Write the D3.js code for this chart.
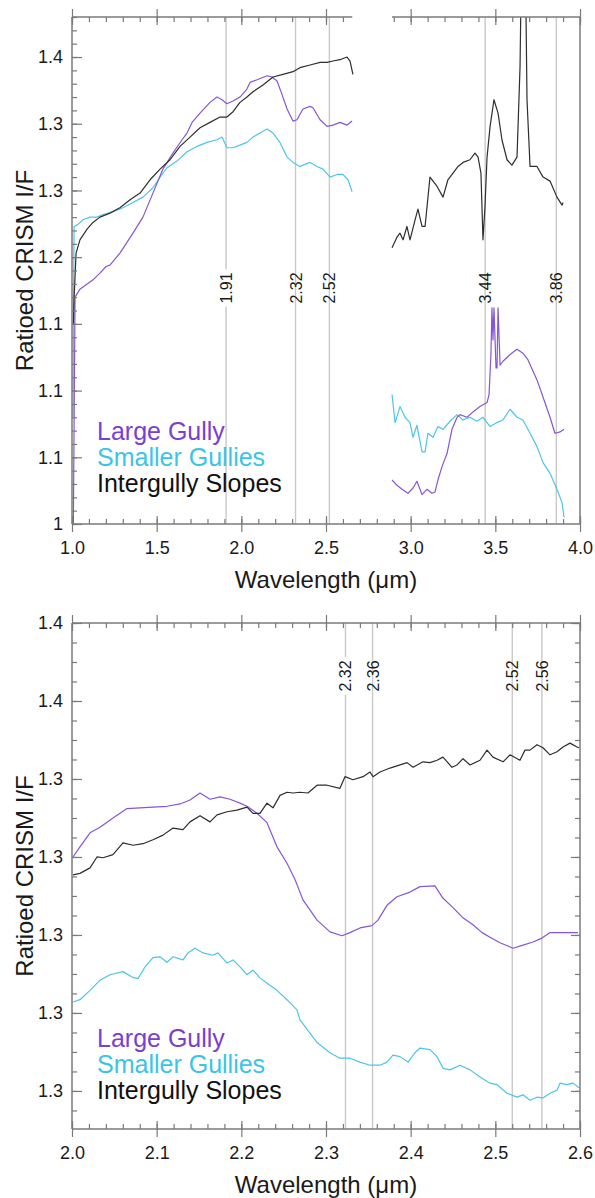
<!DOCTYPE html>
<html>
<head>
<meta charset="utf-8">
<script src="https://cdn.jsdelivr.net/npm/d3@7"></script>
<style>
  body { margin: 0; background: #fff; }
  svg text { font-family: "Liberation Sans", Arial, Helvetica, sans-serif; fill: #1a1a1a; }
</style>
</head>
<body>
<svg id="chart" width="595" height="1198"></svg>
<script>
// ---- data: [wavelength (um), ratioed I/F] ----
var topLargeGullyA = [[1.008,1.000],[1.018,1.170],[1.047,1.176],[1.124,1.183],[1.165,1.188],[1.201,1.193],[1.224,1.194],[1.283,1.203],[1.360,1.218],[1.419,1.230],[1.478,1.248],[1.537,1.266],[1.596,1.278],[1.650,1.288],[1.679,1.293],[1.709,1.301],[1.756,1.308],[1.815,1.316],[1.856,1.320],[1.886,1.318],[1.915,1.315],[1.951,1.317],[1.992,1.320],[2.033,1.326],[2.051,1.331],[2.093,1.333],[2.152,1.336],[2.181,1.335],[2.211,1.332],[2.240,1.322],[2.270,1.311],[2.305,1.302],[2.329,1.303],[2.364,1.311],[2.406,1.313],[2.423,1.312],[2.465,1.303],[2.506,1.298],[2.541,1.299],[2.583,1.301],[2.624,1.299],[2.654,1.302]];
var topLargeGullyB = [[2.890,1.033],[2.919,1.029],[2.949,1.026],[2.984,1.023],[3.014,1.027],[3.037,1.032],[3.067,1.022],[3.096,1.026],[3.126,1.023],[3.144,1.024],[3.161,1.033],[3.185,1.043],[3.215,1.053],[3.244,1.071],[3.274,1.080],[3.291,1.082],[3.333,1.080],[3.368,1.084],[3.409,1.088],[3.451,1.091],[3.463,1.097],[3.474,1.127],[3.480,1.162],[3.486,1.138],[3.492,1.162],[3.504,1.117],[3.510,1.117],[3.516,1.162],[3.528,1.119],[3.545,1.122],[3.587,1.127],[3.628,1.131],[3.663,1.128],[3.693,1.123],[3.746,1.108],[3.782,1.095],[3.823,1.080],[3.852,1.068],[3.882,1.069],[3.906,1.071]];

var topSmallerA = [[1.006,1.080],[1.012,1.223],[1.030,1.224],[1.065,1.228],[1.106,1.230],[1.148,1.230],[1.183,1.232],[1.242,1.234],[1.301,1.237],[1.360,1.241],[1.419,1.245],[1.478,1.252],[1.520,1.260],[1.561,1.267],[1.620,1.272],[1.679,1.279],[1.738,1.283],[1.797,1.286],[1.856,1.288],[1.886,1.290],[1.915,1.282],[1.951,1.282],[1.992,1.284],[2.033,1.286],[2.069,1.290],[2.110,1.293],[2.152,1.296],[2.187,1.293],[2.228,1.286],[2.270,1.275],[2.305,1.271],[2.346,1.268],[2.406,1.271],[2.447,1.268],[2.482,1.266],[2.524,1.260],[2.565,1.262],[2.600,1.262],[2.630,1.258],[2.654,1.249]];
var topSmallerB = [[2.890,1.097],[2.908,1.076],[2.937,1.088],[2.967,1.080],[2.996,1.076],[3.014,1.065],[3.037,1.074],[3.067,1.054],[3.085,1.054],[3.102,1.068],[3.132,1.065],[3.161,1.073],[3.191,1.071],[3.232,1.077],[3.274,1.082],[3.309,1.078],[3.350,1.080],[3.392,1.077],[3.427,1.080],[3.469,1.073],[3.510,1.076],[3.545,1.078],[3.587,1.086],[3.628,1.080],[3.663,1.078],[3.705,1.068],[3.746,1.058],[3.782,1.046],[3.823,1.038],[3.864,1.026],[3.894,1.016],[3.906,1.005]];

var topIntergullyA = [[1.008,1.150],[1.012,1.168],[1.024,1.203],[1.047,1.213],[1.089,1.221],[1.124,1.226],[1.165,1.230],[1.224,1.233],[1.283,1.237],[1.343,1.243],[1.402,1.248],[1.461,1.258],[1.520,1.266],[1.579,1.273],[1.638,1.283],[1.697,1.290],[1.756,1.297],[1.815,1.301],[1.874,1.305],[1.915,1.305],[1.951,1.309],[1.992,1.316],[2.033,1.320],[2.069,1.324],[2.128,1.329],[2.187,1.335],[2.246,1.337],[2.305,1.339],[2.346,1.342],[2.406,1.344],[2.465,1.346],[2.506,1.346],[2.541,1.347],[2.583,1.348],[2.624,1.350],[2.642,1.347],[2.659,1.337]];
var topIntergullyB = [[2.890,1.207],[2.919,1.215],[2.937,1.218],[2.955,1.213],[2.978,1.223],[2.996,1.213],[3.026,1.228],[3.043,1.236],[3.067,1.223],[3.085,1.223],[3.114,1.260],[3.156,1.253],[3.191,1.245],[3.220,1.258],[3.250,1.263],[3.280,1.268],[3.309,1.271],[3.350,1.273],[3.380,1.278],[3.398,1.275],[3.415,1.263],[3.427,1.213],[3.439,1.238],[3.451,1.275],[3.469,1.298],[3.492,1.318],[3.516,1.308],[3.539,1.288],[3.569,1.273],[3.598,1.269],[3.628,1.275],[3.646,1.343],[3.657,1.450],[3.675,1.450],[3.687,1.318],[3.705,1.268],[3.746,1.268],[3.782,1.260],[3.823,1.257],[3.864,1.245],[3.894,1.239],[3.900,1.241]];

var botLargeGully = [[2.0012,1.3300],[2.0094,1.3313],[2.0213,1.3331],[2.0331,1.3338],[2.0484,1.3350],[2.0650,1.3362],[2.0803,1.3363],[2.0957,1.3364],[2.1122,1.3365],[2.1276,1.3368],[2.1394,1.3373],[2.1512,1.3382],[2.1630,1.3374],[2.1748,1.3377],[2.1866,1.3374],[2.1984,1.3369],[2.2067,1.3365],[2.2185,1.3356],[2.2303,1.3344],[2.2421,1.3313],[2.2539,1.3292],[2.2634,1.3271],[2.2728,1.3245],[2.2894,1.3219],[2.3047,1.3204],[2.3189,1.3199],[2.3283,1.3203],[2.3402,1.3209],[2.3543,1.3212],[2.3614,1.3219],[2.3720,1.3238],[2.3839,1.3249],[2.3992,1.3255],[2.4110,1.3262],[2.4287,1.3263],[2.4382,1.3247],[2.4500,1.3235],[2.4618,1.3222],[2.4736,1.3213],[2.4843,1.3203],[2.4937,1.3197],[2.5055,1.3190],[2.5209,1.3183],[2.5327,1.3187],[2.5445,1.3191],[2.5551,1.3196],[2.5646,1.3203],[2.5764,1.3203],[2.5882,1.3203],[2.5976,1.3203]];
var botSmaller = [[2.0012,1.3114],[2.0094,1.3117],[2.0213,1.3129],[2.0331,1.3142],[2.0449,1.3149],[2.0602,1.3153],[2.0709,1.3146],[2.0780,1.3144],[2.0862,1.3159],[2.0957,1.3171],[2.1039,1.3172],[2.1122,1.3165],[2.1193,1.3172],[2.1311,1.3168],[2.1370,1.3177],[2.1453,1.3183],[2.1547,1.3177],[2.1665,1.3174],[2.1724,1.3177],[2.1831,1.3164],[2.1902,1.3168],[2.1984,1.3159],[2.2067,1.3149],[2.2138,1.3155],[2.2220,1.3145],[2.2303,1.3138],[2.2421,1.3129],[2.2539,1.3117],[2.2657,1.3104],[2.2693,1.3091],[2.2811,1.3074],[2.2894,1.3062],[2.2965,1.3056],[2.3047,1.3049],[2.3165,1.3042],[2.3283,1.3042],[2.3402,1.3037],[2.3520,1.3033],[2.3638,1.3033],[2.3720,1.3037],[2.3791,1.3046],[2.3874,1.3044],[2.3969,1.3037],[2.4051,1.3049],[2.4110,1.3055],[2.4228,1.3053],[2.4311,1.3044],[2.4382,1.3029],[2.4465,1.3027],[2.4583,1.3033],[2.4701,1.3027],[2.4819,1.3018],[2.4937,1.3010],[2.5020,1.3008],[2.5138,1.2997],[2.5256,1.2992],[2.5327,1.2995],[2.5409,1.2988],[2.5492,1.2992],[2.5563,1.2991],[2.5646,1.2997],[2.5728,1.3001],[2.5764,1.3010],[2.5846,1.3008],[2.5917,1.3010],[2.5988,1.3004]];
var botIntergully = [[2.0012,1.3277],[2.0094,1.3279],[2.0213,1.3286],[2.0295,1.3300],[2.0366,1.3299],[2.0484,1.3303],[2.0602,1.3318],[2.0720,1.3315],[2.0839,1.3317],[2.0957,1.3322],[2.1075,1.3328],[2.1193,1.3337],[2.1311,1.3335],[2.1394,1.3345],[2.1512,1.3353],[2.1630,1.3345],[2.1713,1.3354],[2.1831,1.3358],[2.1949,1.3360],[2.2067,1.3364],[2.2138,1.3356],[2.2220,1.3356],[2.2303,1.3369],[2.2374,1.3363],[2.2457,1.3379],[2.2539,1.3383],[2.2610,1.3382],[2.2693,1.3383],[2.2787,1.3382],[2.2894,1.3392],[2.3012,1.3392],[2.3165,1.3388],[2.3224,1.3403],[2.3319,1.3399],[2.3437,1.3403],[2.3520,1.3409],[2.3555,1.3403],[2.3638,1.3409],[2.3756,1.3414],[2.3874,1.3418],[2.3957,1.3421],[2.4028,1.3415],[2.4146,1.3422],[2.4228,1.3421],[2.4311,1.3424],[2.4382,1.3428],[2.4488,1.3415],[2.4547,1.3418],[2.4618,1.3426],[2.4701,1.3418],[2.4819,1.3424],[2.4902,1.3437],[2.4972,1.3428],[2.5091,1.3422],[2.5173,1.3431],[2.5291,1.3424],[2.5350,1.3437],[2.5409,1.3437],[2.5492,1.3444],[2.5563,1.3440],[2.5646,1.3431],[2.5728,1.3435],[2.5799,1.3441],[2.5882,1.3446],[2.5965,1.3441],[2.5988,1.3440]];

// ---- ticks and labels ----
var topXMajor = [1.0, 1.5, 2.0, 2.5, 3.0, 3.5, 4.0];
var topXLabels = ["1.0", "1.5", "2.0", "2.5", "3.0", "3.5", "4.0"];
var topYMajor = [1.00, 1.05, 1.10, 1.15, 1.20, 1.25, 1.30, 1.35];
var topYLabels = ["1", "1.1", "1.1", "1.1", "1.2", "1.3", "1.3", "1.4"];
var topMarks = [1.91, 2.32, 2.52, 3.44, 3.86];
var topMarkLabels = ["1.91", "2.32", "2.52", "3.44", "3.86"];

var botXMajor = [2.0, 2.1, 2.2, 2.3, 2.4, 2.5, 2.6];
var botXLabels = ["2.0", "2.1", "2.2", "2.3", "2.4", "2.5", "2.6"];
var botYMajor = [1.30, 1.31, 1.32, 1.33, 1.34, 1.35, 1.36];
var botYLabels = ["1.3", "1.3", "1.3", "1.3", "1.3", "1.4", "1.4"];
var botMarks = [2.323, 2.355, 2.52, 2.555];
var botMarkLabels = ["2.32", "2.36", "2.52", "2.56"];

var legendNames = ["Large Gully", "Smaller Gullies", "Intergully Slopes"];
var colors = ["#8656d6", "#4cc6e6", "#2e2e2e"];
var legendColors = ["#7a3fd0", "#3cc4e6", "#111111"];

var svg = d3.select("#chart");
var axisColor = "#7a7a7a";

function range(a, b, step) {
  var out = [];
  for (var i = 0; a + i * step <= b + 1e-9; i++) out.push(+(a + i * step).toFixed(5));
  return out;
}

function drawPanel(o) {
  var x = d3.scaleLinear().domain(o.xDomain).range([72, 580]);
  var y = d3.scaleLinear().domain(o.yDomain).range([o.bottom, o.top]);
  var g = svg.append("g");
  var clipId = "clip" + o.id;

  g.append("clipPath").attr("id", clipId).append("rect")
      .attr("x", 72).attr("y", o.top).attr("width", 508).attr("height", o.bottom - o.top);

  // marker lines with labels
  var marks = g.append("g");
  o.marks.forEach(function(m, i) {
    var mx = x(m);
    marks.append("line")
        .attr("x1", mx).attr("x2", mx).attr("y1", o.top).attr("y2", o.bottom)
        .attr("stroke", "#c9c9c9").attr("stroke-width", 1.4);
    var t = marks.append("text")
        .attr("transform", "translate(" + (mx + 6) + "," + o.markY + ") rotate(-90)")
        .attr("text-anchor", "middle")
        .style("font-size", "16px")
        .text(o.markLabels[i]);
    var bb = t.node().getBBox();
    marks.insert("rect", "text")
        .attr("x", mx - 3).attr("y", o.markY - bb.width / 2 - 3)
        .attr("width", 6).attr("height", bb.width + 6)
        .attr("fill", "#fff");
  });

  // series
  var line = d3.line()
      .x(function(d) { return x(d[0]); })
      .y(function(d) { return y(d[1]); });
  var series = g.append("g").attr("clip-path", "url(#" + clipId + ")");
  o.series.forEach(function(s) {
    series.append("path")
        .datum(s.data)
        .attr("fill", "none")
        .attr("stroke", colors[s.c])
        .attr("stroke-width", 1.2)
        .attr("stroke-linejoin", "round")
        .attr("d", line);
  });

  // frame lines
  var fr = g.append("g").attr("stroke", axisColor).attr("stroke-width", 1.5);
  fr.append("line").attr("x1", 72).attr("x2", 580).attr("y1", o.bottom).attr("y2", o.bottom);
  fr.append("line").attr("x1", 72).attr("x2", 72).attr("y1", o.top).attr("y2", o.bottom);
  fr.append("line").attr("x1", 580).attr("x2", 580).attr("y1", o.top).attr("y2", o.bottom);
  o.topSegments.forEach(function(seg) {
    fr.append("line").attr("x1", x(seg[0])).attr("x2", x(seg[1])).attr("y1", o.top).attr("y2", o.top);
  });

  function tidy(sel) {
    sel.select(".domain").remove();
    sel.selectAll(".tick line").attr("stroke", axisColor).attr("stroke-width", 1.2);
  }

  // bottom axis
  var xb = g.append("g").attr("transform", "translate(0," + o.bottom + ")");
  xb.append("g").call(d3.axisBottom(x).tickValues(o.xMinor).tickSize(-5).tickFormat("")).call(tidy);
  xb.append("g").call(d3.axisBottom(x).tickValues(o.xMajor).tickSize(8).tickPadding(9)
      .tickFormat(function(d, i) { return o.xLabels[i]; })).call(tidy)
    .call(function(s) {
      s.selectAll(".tick line").attr("y1", -8);
      s.selectAll(".tick text").style("font-size", "18px").attr("fill", "#1a1a1a");
    });

  // top axis (possibly broken)
  o.topSegments.forEach(function(seg) {
    var inSeg = function(v) { return v >= seg[0] - 1e-6 && v <= seg[1] + 1e-6; };
    var xt = g.append("g").attr("transform", "translate(0," + o.top + ")");
    xt.append("g").call(d3.axisTop(x).tickValues(o.xMinor.filter(inSeg)).tickSize(-5).tickFormat("")).call(tidy);
    xt.append("g").call(d3.axisTop(x).tickValues(o.xMajor.filter(inSeg)).tickSize(8).tickFormat("")).call(tidy)
      .call(function(s) { s.selectAll(".tick line").attr("y1", 8); });
  });

  // left axis
  var yl = g.append("g").attr("transform", "translate(72,0)");
  yl.append("g").call(d3.axisLeft(y).tickValues(o.yMinor).tickSize(-5).tickFormat("")).call(tidy);
  yl.append("g").call(d3.axisLeft(y).tickValues(o.yMajor).tickSize(-10).tickPadding(9)
      .tickFormat(function(d, i) { return o.yLabels[i]; })).call(tidy)
    .call(function(s) { s.selectAll(".tick text").style("font-size", "18px").attr("fill", "#1a1a1a"); });

  // right axis ticks
  if (o.rightTicks) {
    var yr = g.append("g").attr("transform", "translate(580,0)");
    yr.append("g").call(d3.axisRight(y).tickValues(o.yMinor).tickSize(-5).tickFormat("")).call(tidy);
    yr.append("g").call(d3.axisRight(y).tickValues(o.yMajor).tickSize(-9).tickFormat("")).call(tidy);
  }

  // axis titles
  g.append("text")
      .attr("transform", "translate(33," + ((o.top + o.bottom) / 2) + ") rotate(-90)")
      .attr("text-anchor", "middle")
      .style("font-size", "24px")
      .text("Ratioed CRISM I/F");
  g.append("text")
      .attr("x", 326).attr("y", o.bottom + 64)
      .attr("text-anchor", "middle")
      .style("font-size", "24px")
      .text("Wavelength (\u03bcm)");

  // legend
  legendNames.forEach(function(n, i) {
    g.append("text")
        .attr("x", 97).attr("y", o.legendY + i * 26)
        .style("font-size", "25px")
        .style("fill", legendColors[i])
        .text(n);
  });
}

drawPanel({
  id: "top", top: 17, bottom: 524,
  xDomain: [1, 4], yDomain: [1, 1.38],
  xMajor: topXMajor, xLabels: topXLabels, xMinor: range(1, 4, 0.1),
  yMajor: topYMajor, yLabels: topYLabels, yMinor: range(1, 1.38, 0.01),
  topSegments: [[1, 2.655], [2.89, 4]],
  rightTicks: false,
  marks: topMarks, markLabels: topMarkLabels, markY: 288,
  legendY: 440,
  series: [
    { data: topSmallerA, c: 1 }, { data: topSmallerB, c: 1 },
    { data: topLargeGullyA, c: 0 }, { data: topLargeGullyB, c: 0 },
    { data: topIntergullyA, c: 2 }, { data: topIntergullyB, c: 2 }
  ]
});

drawPanel({
  id: "bot", top: 623, bottom: 1129,
  xDomain: [2, 2.6], yDomain: [1.29512, 1.36],
  xMajor: botXMajor, xLabels: botXLabels, xMinor: range(2, 2.6, 0.02),
  yMajor: botYMajor, yLabels: botYLabels, yMinor: range(1.2975, 1.36, 0.0025),
  topSegments: [[2, 2.6]],
  rightTicks: true,
  marks: botMarks, markLabels: botMarkLabels, markY: 676,
  legendY: 1047,
  series: [
    { data: botSmaller, c: 1 },
    { data: botLargeGully, c: 0 },
    { data: botIntergully, c: 2 }
  ]
});
</script>
</body>
</html>
